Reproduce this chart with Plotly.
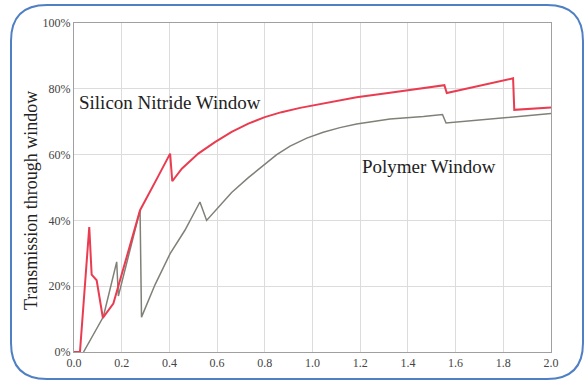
import plotly.graph_objects as go

# Data
si_x = [0.0, 0.025, 0.064, 0.074, 0.095, 0.121, 0.165, 0.277, 0.35, 0.403, 0.412,
        0.452, 0.521, 0.591, 0.661, 0.731, 0.80, 0.87, 0.948, 1.045, 1.185, 1.325, 1.465,
        1.553, 1.563, 1.70, 1.841, 1.846, 2.0]
si_y = [0, 0, 38.0, 23.5, 21.8, 10.4, 14.7, 43.1, 53.0, 60.3, 51.9,
        55.7, 60.3, 63.8, 66.9, 69.4, 71.4, 72.9, 74.2, 75.6, 77.4, 78.8, 80.1,
        81.1, 78.7, 81.0, 83.2, 73.6, 74.3]

poly_x = [0.04, 0.123, 0.179, 0.186, 0.277, 0.283, 0.34, 0.403, 0.465, 0.528, 0.556,
          0.605, 0.661, 0.731, 0.80, 0.85, 0.906, 0.976, 1.045, 1.115, 1.185, 1.325,
          1.465, 1.545, 1.560, 1.80, 2.0]
poly_y = [0, 10.7, 27.4, 17.0, 43.1, 10.6, 20.5, 29.9, 37.0, 45.6, 40.0,
          44.1, 48.5, 53.0, 57.0, 60.0, 62.6, 65.0, 66.8, 68.2, 69.3, 70.8,
          71.6, 72.2, 69.6, 71.3, 72.5]

x_ticks = [0.0, 0.2, 0.4, 0.6, 0.8, 1.0, 1.2, 1.4, 1.6, 1.8, 2.0]
x_labels = ["0.0", "0.2", "0.4", "0.6", "0.8", "1.0", "1.2", "1.4", "1.6", "1.8", "2.0"]
y_ticks = [0, 20, 40, 60, 80, 100]
y_labels = ["0%", "20%", "40%", "60%", "80%", "100%"]

W, H = 586, 382
L, R, T, B = 74, 35, 23, 30
pw, ph = W - L - R, H - T - B

def to_paper(px, py):
    return (px - L) / pw, (H - B - py) / ph

fig = go.Figure()
fig.add_trace(go.Scatter(x=poly_x, y=poly_y, mode="lines",
                         line=dict(color="#808078", width=1.5), name="Polymer Window"))
fig.add_trace(go.Scatter(x=si_x, y=si_y, mode="lines",
                         line=dict(color="#ea3c50", width=2), name="Silicon Nitride Window"))

# rounded outer border
x0, y0, x1, y1, r = 11, 5, 583, 379, 36
pts = [("M", x0 + r, y0), ("L", x1 - r, y0), ("Q", x1, y0, x1, y0 + r),
       ("L", x1, y1 - r), ("Q", x1, y1, x1 - r, y1), ("L", x0 + r, y1),
       ("Q", x0, y1, x0, y1 - r), ("L", x0, y0 + r), ("Q", x0, y0, x0 + r, y0)]
path = ""
for p in pts:
    s = p[0]
    coords = p[1:]
    for i in range(0, len(coords), 2):
        a, b = to_paper(coords[i], coords[i + 1])
        s += f"{a:.5f},{b:.5f} "
    path += s
path += "Z"
fig.add_shape(type="path", path=path, xref="paper", yref="paper",
              line=dict(color="#4f80c4", width=2), layer="above")

serif = "Liberation Serif"
fig.add_annotation(x=0.012, y=75.8, xref="x", yref="y", text="Silicon Nitride Window",
                   showarrow=False, xanchor="left", yanchor="middle",
                   font=dict(family=serif, size=19, color="#222"))
fig.add_annotation(x=1.199, y=56.3, xref="x", yref="y", text="Polymer Window",
                   showarrow=False, xanchor="left", yanchor="middle",
                   font=dict(family=serif, size=19, color="#222"))
ax, ay = to_paper(31, 201)
fig.add_annotation(x=ax, y=ay, xref="paper", yref="paper", text="Transmission through window",
                   showarrow=False, textangle=-90, xanchor="center", yanchor="middle",
                   font=dict(family=serif, size=18, color="#222"))

fig.update_layout(
    width=W, height=H,
    margin=dict(l=L, r=R, t=T, b=B, autoexpand=False),
    paper_bgcolor="white", plot_bgcolor="white",
    showlegend=False,
    font=dict(family=serif, color="#444"),
    xaxis=dict(range=[0, 2], tickvals=x_ticks, ticktext=x_labels,
               showgrid=True, gridcolor="#dcdcdc", gridwidth=1,
               showline=True, linecolor="#a0a0a0", linewidth=1, mirror=True,
               zeroline=False, ticks="", tickfont=dict(family=serif, size=12, color="#444")),
    yaxis=dict(range=[0, 100], tickvals=y_ticks, ticktext=y_labels,
               showgrid=True, gridcolor="#dcdcdc", gridwidth=1,
               showline=True, linecolor="#a0a0a0", linewidth=1, mirror=True,
               zeroline=False, ticks="", tickfont=dict(family=serif, size=12, color="#444")),
)

fig.write_html("out.html", config={"displayModeBar": False},
               post_script="document.body.style.margin='0';")
